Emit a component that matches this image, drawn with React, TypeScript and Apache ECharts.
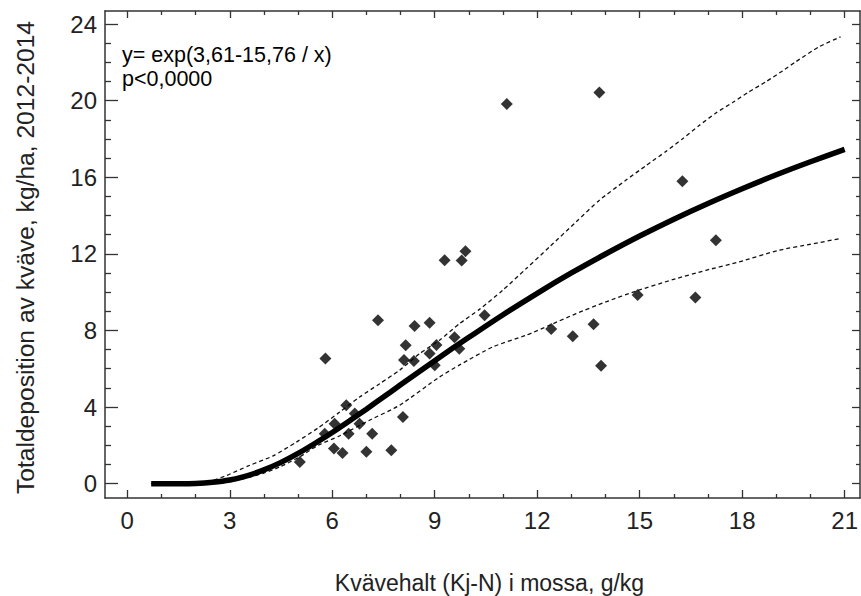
import React, { useEffect, useRef } from "react";
import * as echarts from "echarts";

// Observed points (Kj-N in moss g/kg, total N deposition kg/ha)
const pointX = [5.05, 5.78, 5.8, 6.05, 6.07, 6.3, 6.41, 6.48, 6.66, 6.8, 7.0, 7.17, 7.34, 7.73, 8.07, 8.1, 8.15, 8.39, 8.41, 8.85, 8.85, 9.0, 9.05, 9.29, 9.58, 9.72, 9.79, 9.9, 10.46, 11.11, 12.41, 13.04, 13.65, 13.82, 13.87, 14.94, 16.25, 16.63, 17.23];
const pointY = [1.13, 2.61, 6.53, 1.83, 3.13, 1.6, 4.09, 2.61, 3.66, 3.13, 1.67, 2.61, 8.53, 1.74, 3.48, 6.46, 7.23, 6.4, 8.23, 8.4, 6.79, 6.18, 7.24, 11.67, 7.64, 7.05, 11.65, 12.14, 8.79, 19.82, 8.08, 7.7, 8.32, 20.43, 6.15, 9.85, 15.79, 9.72, 12.71];

// Fitted curve
const curveX = [0.7, 1, 1.5, 2, 2.5, 3, 3.5, 4, 4.5, 5, 5.5, 6, 6.5, 7, 7.5, 8, 8.5, 9, 9.5, 10, 11, 12, 13, 14, 15, 16, 17, 18, 19, 20, 21];
const curveY = [0, 0, 0, 0.01, 0.07, 0.19, 0.41, 0.72, 1.11, 1.58, 2.11, 2.67, 3.27, 3.89, 4.52, 5.16, 5.79, 6.42, 7.04, 7.64, 8.82, 9.94, 11.0, 11.99, 12.93, 13.81, 14.63, 15.4, 16.13, 16.81, 17.45];

// Upper confidence limit
const upperX = [0.7, 2.0, 2.5, 2.91, 3.59, 4.27, 4.95, 5.58, 6.22, 6.8, 7.39, 7.97, 8.56, 9.14, 9.73, 10.31, 10.99, 11.68, 12.36, 13.14, 13.82, 14.6, 15.18, 15.77, 16.25, 16.74, 17.23, 17.72, 18.2, 18.69, 19.18, 19.57, 20.25, 20.88];
const upperY = [0, 0.02, 0.17, 0.43, 0.96, 1.45, 2.17, 2.9, 3.74, 4.52, 5.22, 5.92, 6.79, 7.49, 8.36, 9.1, 10.1, 11.23, 12.36, 13.67, 14.8, 15.85, 16.6, 17.35, 18.0, 18.7, 19.35, 19.9, 20.46, 20.98, 21.55, 22.03, 22.81, 23.33];

// Lower confidence limit
const lowerX = [0.7, 2.5, 3.0, 3.5, 4.0, 4.46, 5.05, 5.58, 6.22, 7.09, 7.97, 9.14, 9.73, 10.7, 11.68, 12.36, 13.14, 14.01, 14.89, 15.96, 16.94, 17.91, 19.08, 20.0, 20.88];
const lowerY = [0, 0.02, 0.1, 0.3, 0.55, 0.87, 1.4, 2.0, 2.5, 3.31, 4.09, 5.57, 6.2, 7.14, 7.75, 8.27, 8.88, 9.49, 10.05, 10.65, 11.14, 11.58, 12.19, 12.5, 12.8];

const xMajorTicks = [0, 3, 6, 9, 12, 15, 18, 21];
const xMinorTicks = [1, 2, 4, 5, 7, 8, 10, 11, 13, 14, 16, 17, 19, 20];
const yMajorTicks = [0, 4, 8, 12, 16, 20, 24];
const yMinorTicks = [1, 2, 3, 5, 6, 7, 9, 10, 11, 13, 14, 15, 17, 18, 19, 21, 22, 23];

const xTitle = "Kvävehalt (Kj-N) i mossa, g/kg";
const yTitle = "Totaldeposition av kväve, kg/ha, 2012-2014";
const annotationLines = ["y= exp(3,61-15,76 / x)", "p<0,0000"];

const FONT = "'Liberation Sans', Arial, sans-serif";
const TXT = "#222";
const LINE = "#333";
const X_MIN = -0.652;
const X_MAX = 21.45;
const Y_MIN = -0.75;
const Y_MAX = 24.68;

const pairs = (xs: number[], ys: number[]) => xs.map((x, i) => [x, ys[i]]);

function xAxisDef(position: string, ticks: number[], len: number, showLine: boolean, labels: boolean) {
  return {
    type: "value",
    position,
    min: X_MIN,
    max: X_MAX,
    axisLine: { show: showLine, onZero: false, lineStyle: { color: LINE, width: 1.5 } },
    axisTick: { show: true, inside: true, length: len, customValues: ticks, lineStyle: { color: LINE, width: 1.3 } },
    axisLabel: labels
      ? { show: true, customValues: ticks, margin: 10, fontSize: 24, fontFamily: FONT, color: TXT }
      : { show: false },
    splitLine: { show: false },
  };
}

function yAxisDef(position: string, ticks: number[], len: number, showLine: boolean, labels: boolean) {
  return {
    type: "value",
    position,
    min: Y_MIN,
    max: Y_MAX,
    axisLine: { show: showLine, onZero: false, lineStyle: { color: LINE, width: 1.5 } },
    axisTick: { show: true, inside: true, length: len, customValues: ticks, lineStyle: { color: LINE, width: 1.3 } },
    axisLabel: labels
      ? { show: true, customValues: ticks, margin: 8, fontSize: 24, fontFamily: FONT, color: TXT }
      : { show: false },
    splitLine: { show: false },
  };
}

export default function App() {
  const ref = useRef<HTMLDivElement>(null);
  useEffect(() => {
    if (!ref.current) return;
    const chart = echarts.init(ref.current, null, { renderer: "svg" });
    chart.setOption({
      animation: false,
      backgroundColor: "#fff",
      grid: { left: 105, top: 11, width: 756, height: 487, containLabel: false },
      xAxis: [
        xAxisDef("bottom", xMajorTicks, 8, true, true),
        xAxisDef("bottom", xMinorTicks, 4, false, false),
        xAxisDef("top", xMajorTicks, 7, true, false),
        xAxisDef("top", xMinorTicks, 4, false, false),
      ],
      yAxis: [
        yAxisDef("left", yMajorTicks, 13, true, true),
        yAxisDef("left", yMinorTicks, 6, false, false),
        yAxisDef("right", yMajorTicks, 8, true, false),
        yAxisDef("right", yMinorTicks, 4, false, false),
      ],
      graphic: [
        {
          type: "text",
          x: 122,
          y: 54.5,
          style: { text: annotationLines[0], font: `21.5px ${FONT}`, fill: "#000", verticalAlign: "middle" },
        },
        {
          type: "text",
          x: 122,
          y: 79,
          style: { text: annotationLines[1], font: `21.5px ${FONT}`, fill: "#000", verticalAlign: "middle" },
        },
        {
          type: "text",
          x: 489.5,
          y: 583,
          style: { text: xTitle, font: `23px ${FONT}`, fill: TXT, align: "center", verticalAlign: "middle" },
        },
        {
          type: "text",
          x: 25,
          y: 257.5,
          rotation: Math.PI / 2,
          style: { text: yTitle, font: `24.6px ${FONT}`, fill: TXT, align: "center", verticalAlign: "middle" },
        },
      ],
      series: [
        {
          type: "line",
          name: "upper",
          data: pairs(upperX, upperY),
          showSymbol: false,
          symbol: "none",
          smooth: 0.2,
          lineStyle: { color: "#111", width: 1.3, type: [4, 3] },
          z: 2,
        },
        {
          type: "line",
          name: "lower",
          data: pairs(lowerX, lowerY),
          showSymbol: false,
          symbol: "none",
          smooth: 0.2,
          lineStyle: { color: "#111", width: 1.3, type: [4, 3] },
          z: 2,
        },
        {
          type: "line",
          name: "fit",
          data: pairs(curveX, curveY),
          showSymbol: false,
          symbol: "none",
          smooth: 0.3,
          lineStyle: { color: "#000", width: 5.5 },
          z: 3,
        },
        {
          type: "scatter",
          name: "obs",
          data: pairs(pointX, pointY),
          symbol: "diamond",
          symbolSize: [12, 12],
          itemStyle: { color: "#000" },
          z: 4,
        },
      ],
    });
    return () => chart.dispose();
  }, []);
  return <div ref={ref} style={{ position: "fixed", left: 0, top: 0, width: 861, height: 596, background: "#fff" }} />;
}
